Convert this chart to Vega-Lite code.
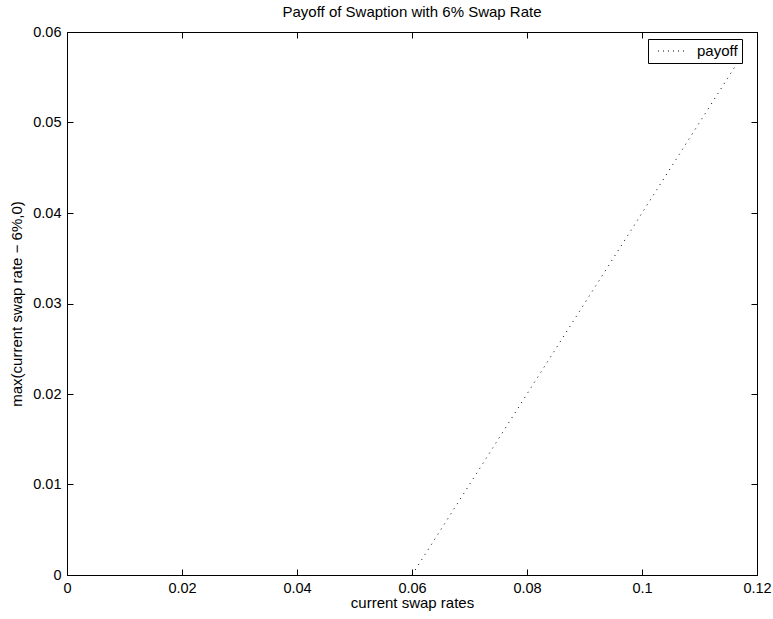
{
  "$schema": "https://vega.github.io/schema/vega-lite/v6.json",
  "width": 690,
  "height": 543,
  "autosize": {"type": "none"},
  "padding": {"left": 67, "top": 32, "right": 16, "bottom": 44},
  "background": "white",
  "config": {
    "font": "Liberation Sans",
    "view": {"stroke": "black", "strokeWidth": 1},
    "axis": {"grid": false, "domainColor": "black", "tickColor": "black", "labelColor": "black", "titleColor": "black", "labelFontSize": 14.5, "titleFontSize": 15, "titleFontWeight": "normal", "tickSize": -6, "labelPadding": 12, "labelFlush": false, "labelOverlap": false, "labelBound": false, "zindex": 1}
  },
  "title": {"text": "Payoff of Swaption with 6% Swap Rate", "fontSize": 15, "fontWeight": "normal", "color": "black", "offset": 4, "anchor": "middle"},
  "data": {"values": [
    {"rate": 0.06, "payoff": 0.0, "series": "payoff"},
    {"rate": 0.1162, "payoff": 0.0562, "series": "payoff"}
  ]},
  "layer": [
    {
      "mark": {"type": "line", "strokeDash": [1, 5], "strokeWidth": 1, "clip": true},
      "encoding": {
        "x": {"field": "rate", "type": "quantitative", "scale": {"domain": [0, 0.12], "nice": false}, "axis": {"title": "current swap rates", "values": [0, 0.02, 0.04, 0.06, 0.08, 0.1, 0.12], "format": ".2~g", "titlePadding": 1}},
        "y": {"field": "payoff", "type": "quantitative", "scale": {"domain": [0, 0.06], "nice": false, "zero": false}, "axis": {"title": "max(current swap rate − 6%,0)", "values": [0, 0.01, 0.02, 0.03, 0.04, 0.05, 0.06], "format": ".2~g", "titlePadding": 8}},
        "color": {"field": "series", "type": "nominal", "scale": {"range": ["black"]}, "legend": {"title": null, "orient": "none", "legendX": 581, "legendY": 7, "strokeColor": "black", "fillColor": "white", "padding": 4, "symbolType": "M-1.87,0H1.87", "symbolSize": 225, "symbolOffset": 12, "symbolStrokeWidth": 1, "symbolDash": [1, 4], "symbolFillColor": "transparent", "labelFontSize": 15, "labelColor": "black", "labelOffset": 17}}
      }
    },
    {
      "mark": {"type": "line", "opacity": 0},
      "encoding": {
        "x": {"field": "rate", "type": "quantitative", "scale": {"domain": [0, 0.12], "nice": false}, "axis": {"orient": "top", "title": null, "labels": false, "values": [0, 0.02, 0.04, 0.06, 0.08, 0.1, 0.12]}},
        "y": {"field": "payoff", "type": "quantitative", "scale": {"domain": [0, 0.06], "nice": false, "zero": false}, "axis": {"orient": "right", "title": null, "labels": false, "values": [0, 0.01, 0.02, 0.03, 0.04, 0.05, 0.06]}}
      }
    }
  ],
  "resolve": {"axis": {"x": "independent", "y": "independent"}}
}
